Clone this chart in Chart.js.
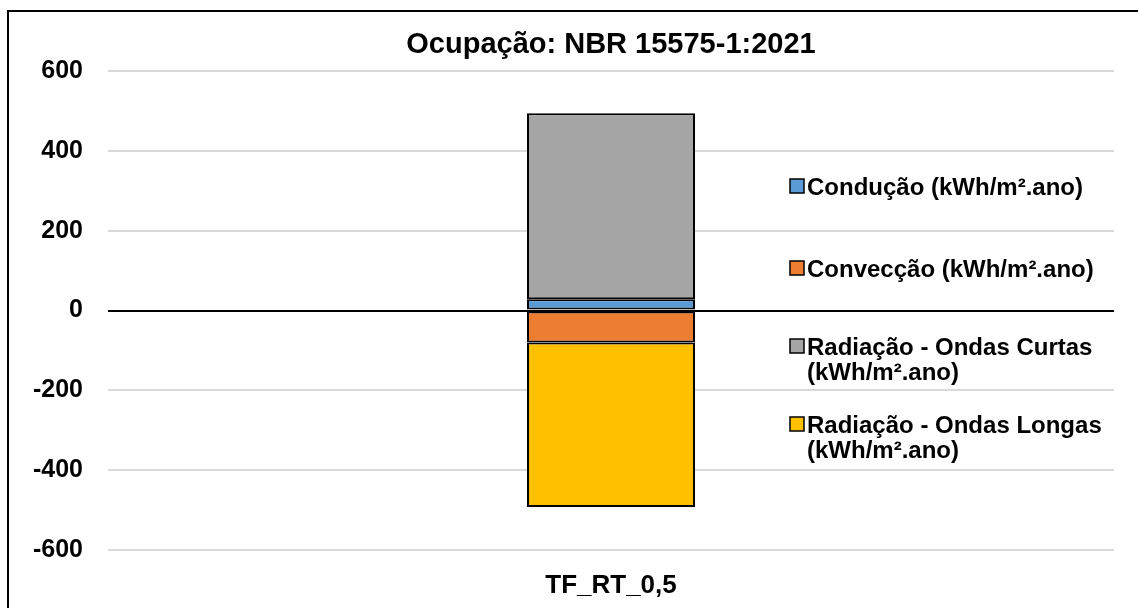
<!DOCTYPE html>
<html>
<head>
<meta charset="utf-8">
<script src="https://cdn.jsdelivr.net/npm/chart.js@4.4.1/dist/chart.umd.min.js"></script>
<style>
    html, body { margin: 0; padding: 0; background: #fff; overflow: hidden; }
    #chartBox { width: 1138px; height: 608px; }
</style>
</head>
<body>
<div id="chartBox"><canvas id="balanceChart"></canvas></div>
<script>
// Data
const chartTitle = 'Ocupação: NBR 15575-1:2021';
const categories = ['TF_RT_0,5'];
const seriesNames = [
    'Condução (kWh/m².ano)',
    'Convecção (kWh/m².ano)',
    'Radiação - Ondas Curtas (kWh/m².ano)',
    'Radiação - Ondas Longas (kWh/m².ano)',
];
const conducao = [28];
const conveccao = [-80];
const ondasCurtas = [466];
const ondasLongas = [-412];
const yMin = -600;
const yMax = 600;
const yStep = 200;
const seriesColors = ['#5B9BD5', '#ED7D31', '#A5A5A5', '#FFC000'];

const fontFamily = '"Liberation Sans", Arial, sans-serif';

// Cadre, titre et légende dessinés à la main
const framePlugin = {
    id: 'frame',
    beforeDraw(chart) {
        const ctx = chart.ctx;
        ctx.save();
        ctx.fillStyle = '#fff';
        ctx.fillRect(0, 0, chart.width, chart.height);
        ctx.strokeStyle = '#000';
        ctx.lineWidth = 2;
        ctx.strokeRect(8, 11, chart.width + 20, chart.height + 20);
        ctx.restore();
    },
    afterDraw(chart) {
        const ctx = chart.ctx;
        const area = chart.chartArea;
        ctx.save();

        // Title
        ctx.fillStyle = '#000';
        ctx.font = 'bold 29px ' + fontFamily;
        ctx.textAlign = 'center';
        ctx.textBaseline = 'alphabetic';
        ctx.fillText(chartTitle, (area.left + area.right) / 2, 53);

        // Legend (wrapped text)
        ctx.font = 'bold 24px ' + fontFamily;
        ctx.textAlign = 'left';
        const baselines = [195, 277, 355, 433];
        chart.data.datasets.forEach((ds, i) => {
            const words = ds.label.split(' ');
            const lines = [];
            let current = '';
            words.forEach(w => {
                const test = current ? current + ' ' + w : w;
                if (ctx.measureText(test).width > 310 && current) {
                    lines.push(current);
                    current = w;
                } else {
                    current = test;
                }
            });
            lines.push(current);

            const y0 = baselines[i];
            ctx.fillStyle = ds.backgroundColor;
            ctx.fillRect(790, y0 - 16, 14, 14);
            ctx.strokeStyle = '#000';
            ctx.lineWidth = 1.5;
            ctx.strokeRect(790, y0 - 16, 14, 14);

            ctx.fillStyle = '#000';
            lines.forEach((line, k) => ctx.fillText(line, 807, y0 + k * 25));
        });
        ctx.restore();
    },
};

function makeDataset(label, data, color) {
    return {
        label: label,
        data: data,
        backgroundColor: color,
        borderColor: '#000',
        borderWidth: 2,
        borderSkipped: false,
        barPercentage: 0.167,
        categoryPercentage: 1,
    };
}

const config = {
    type: 'bar',
    data: {
        labels: categories,
        datasets: [
            makeDataset(seriesNames[0], conducao, seriesColors[0]),
            makeDataset(seriesNames[1], conveccao, seriesColors[1]),
            makeDataset(seriesNames[2], ondasCurtas, seriesColors[2]),
            makeDataset(seriesNames[3], ondasLongas, seriesColors[3]),
        ],
    },
    options: {
        responsive: true,
        maintainAspectRatio: false,
        animation: false,
        layout: { padding: { left: 8, right: 24, top: 71, bottom: 0 } },
        plugins: {
            legend: { display: false },
            title: { display: false },
            tooltip: { enabled: false },
        },
        scales: {
            x: {
                stacked: true,
                grid: { display: false, drawTicks: false },
                border: { display: false },
                ticks: {
                    color: '#000',
                    padding: 20,
                    font: { family: fontFamily, size: 26, weight: 'bold' },
                },
                afterFit: scale => { scale.height = 58; },
            },
            y: {
                stacked: true,
                min: yMin,
                max: yMax,
                border: { display: false },
                grid: {
                    drawTicks: false,
                    lineWidth: 2,
                    color: c => (c.tick && c.tick.value === 0 ? '#000' : '#D9D9D9'),
                },
                ticks: {
                    stepSize: yStep,
                    color: '#000',
                    padding: 25,
                    font: { family: fontFamily, size: 25, weight: 'bold' },
                },
                afterFit: scale => { scale.width = 100; },
            },
        },
    },
    plugins: [framePlugin],
};

const ctx = document.getElementById('balanceChart').getContext('2d');
new Chart(ctx, config);
</script>
</body>
</html>
